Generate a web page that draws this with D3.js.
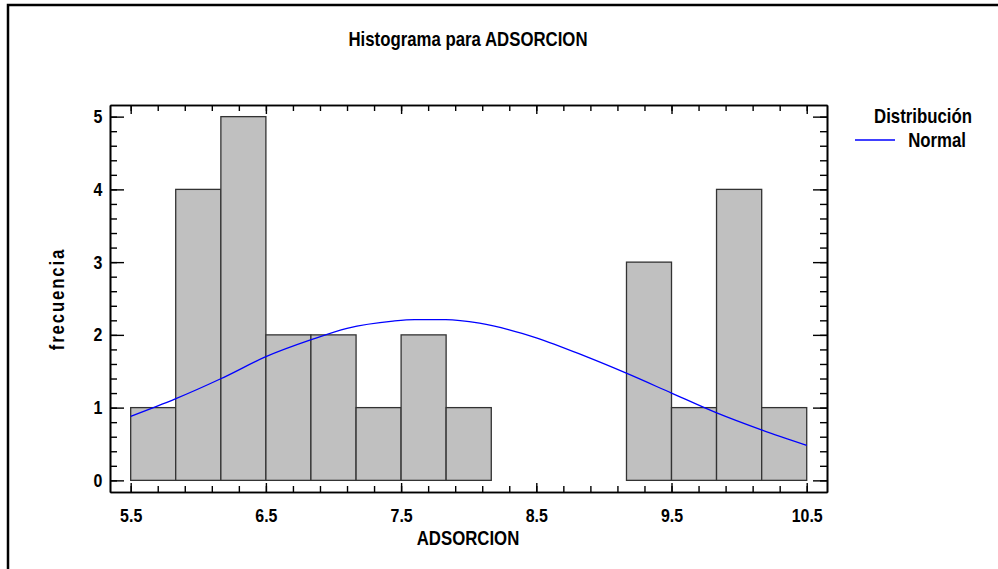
<!DOCTYPE html>
<html>
<head>
<meta charset="utf-8">
<script src="https://cdn.jsdelivr.net/npm/d3@7.9.0/dist/d3.min.js"></script>
<style>
  body { margin: 0; background: #fff; }
  svg text { font-family: "Liberation Sans", Arial, sans-serif; font-weight: bold; fill: #000; }
</style>
</head>
<body>
<div id="chart"></div>
<script>
// Histogram bins (edges) and counts
const binEdges = [5.5, 5.833, 6.167, 6.5, 6.833, 7.167, 7.5, 7.833, 8.167, 8.5, 8.833, 9.167, 9.5, 9.833, 10.167, 10.5];
const counts = [1, 4, 5, 2, 2, 1, 2, 1, 0, 0, 0, 3, 1, 4, 1];

// Fitted normal curve
const curveX = [5.5, 5.83, 6.17, 6.5, 6.83, 7.1, 7.44, 7.6, 7.83, 8.08, 8.3, 8.5, 8.87, 9.17, 9.5, 9.83, 10.17, 10.5];
const curveY = [0.88, 1.12, 1.40, 1.70, 1.93, 2.09, 2.19, 2.21, 2.21, 2.16, 2.07, 1.96, 1.70, 1.47, 1.20, 0.93, 0.69, 0.48];

// Tick labels
const xTicks = [5.5, 6.5, 7.5, 8.5, 9.5, 10.5];
const yTicks = [0, 1, 2, 3, 4, 5];

const W = 998, H = 569;
const plot = { left: 110, top: 105, right: 827, bottom: 492 };
const narrow = 0.84;

const svg = d3.select("#chart").append("svg")
  .attr("width", W)
  .attr("height", H);

// Outer frame (left and top edges visible)
svg.append("path")
  .attr("d", `M8,${H} L8,5 L${W},5`)
  .attr("fill", "none")
  .attr("stroke", "#000")
  .attr("stroke-width", 2.5);

const x = d3.scaleLinear().domain([5.347, 10.65]).range([plot.left, plot.right]);
const y = d3.scaleLinear().domain([-0.16, 5.16]).range([plot.bottom, plot.top]);

// Bars
const bins = counts.map((c, i) => ({ x0: binEdges[i], x1: binEdges[i + 1], n: c }));
svg.append("g")
  .selectAll("rect")
  .data(bins)
  .join("rect")
  .attr("x", d => x(d.x0))
  .attr("y", d => y(d.n))
  .attr("width", d => x(d.x1) - x(d.x0))
  .attr("height", d => y(0) - y(d.n))
  .attr("fill", "#c0c0c0")
  .attr("stroke", "#333")
  .attr("stroke-width", 1.3);

// Normal curve
const line = d3.line()
  .x((d, i) => x(curveX[i]))
  .y(d => y(d))
  .curve(d3.curveMonotoneX);

svg.append("path")
  .datum(curveY)
  .attr("d", line)
  .attr("fill", "none")
  .attr("stroke", "#0000ff")
  .attr("stroke-width", 1.3);

// Axes: majors with labels, minors without
const xMinor = d3.range(55, 107, 2).map(v => v / 10);
const yMinor = d3.range(0, 26).map(v => v / 5);

function styleAxis(g) {
  g.select(".domain").attr("stroke", "#000").attr("stroke-width", 1.6);
  g.selectAll(".tick line").attr("stroke", "#000").attr("stroke-width", 1.4);
  g.selectAll(".tick text").attr("font-size", 19).attr("transform", `scale(${narrow},1)`);
}

// bottom
svg.append("g")
  .attr("transform", `translate(0,${plot.bottom})`)
  .call(d3.axisBottom(x).tickValues(xMinor).tickSize(-6).tickFormat("").tickSizeOuter(0))
  .call(styleAxis);
svg.append("g")
  .attr("transform", `translate(0,${plot.bottom})`)
  .call(d3.axisBottom(x).tickValues(xTicks).tickSize(-9).tickPadding(17).tickFormat(d3.format(".1f")).tickSizeOuter(0))
  .call(styleAxis);

// top
svg.append("g")
  .attr("transform", `translate(0,${plot.top})`)
  .call(d3.axisTop(x).tickValues(xMinor).tickSize(-6).tickFormat("").tickSizeOuter(0))
  .call(styleAxis);
svg.append("g")
  .attr("transform", `translate(0,${plot.top})`)
  .call(d3.axisTop(x).tickValues(xTicks).tickSize(-9).tickFormat("").tickSizeOuter(0))
  .call(styleAxis);

// left
svg.append("g")
  .attr("transform", `translate(${plot.left},0)`)
  .call(d3.axisLeft(y).tickValues(yMinor).tickSize(-7).tickFormat("").tickSizeOuter(0))
  .call(styleAxis);
svg.append("g")
  .attr("transform", `translate(${plot.left},0)`)
  .call(d3.axisLeft(y).tickValues(yTicks).tickSize(-14).tickPadding(9).tickFormat(d3.format("d")).tickSizeOuter(0))
  .call(styleAxis);

// right
svg.append("g")
  .attr("transform", `translate(${plot.right},0)`)
  .call(d3.axisRight(y).tickValues(yMinor).tickSize(-7).tickFormat("").tickSizeOuter(0))
  .call(styleAxis);
svg.append("g")
  .attr("transform", `translate(${plot.right},0)`)
  .call(d3.axisRight(y).tickValues(yTicks).tickSize(-14).tickFormat("").tickSizeOuter(0))
  .call(styleAxis);

// Condensed text helper
function label(tx, ty, str, anchor, rot, spacing) {
  svg.append("text")
    .attr("transform", `translate(${tx},${ty}) rotate(${rot || 0}) scale(${narrow},1)`)
    .attr("text-anchor", anchor)
    .attr("font-size", 20)
    .attr("letter-spacing", spacing || 0)
    .text(str);
}

label(468, 46, "Histograma para ADSORCION", "middle");
label(468, 545, "ADSORCION", "middle");
label(64, 299, "frecuencia", "middle", -90, 2.2);

// Legend
label(972, 123, "Distribución", "end");
svg.append("line")
  .attr("x1", 855).attr("x2", 895)
  .attr("y1", 140).attr("y2", 140)
  .attr("stroke", "#0000ff")
  .attr("stroke-width", 1.3);
label(966, 147, "Normal", "end");
</script>
</body>
</html>
